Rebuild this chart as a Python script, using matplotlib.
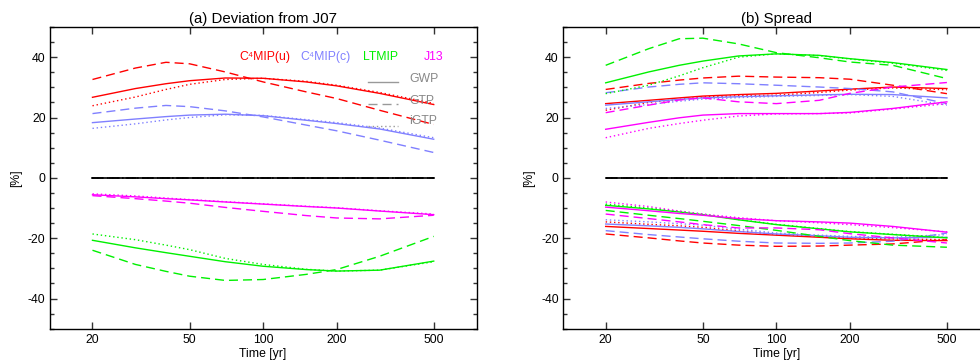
import matplotlib
matplotlib.use("Agg")
import matplotlib.pyplot as plt
from matplotlib.ticker import FixedLocator, NullLocator, MultipleLocator, FixedFormatter

plt.rcParams['font.family'] = ['Liberation Sans', 'DejaVu Sans']
plt.rcParams['axes.unicode_minus'] = False

# ---------------- data ----------------
years = [20, 30, 40, 50, 70, 100, 150, 200, 300, 500]
reference_j07 = [0, 0, 0, 0, 0, 0, 0, 0, 0, 0]

# (a) Deviation from J07 [%]
dev_c4u_gwp = [26.7, 29.6, 31.2, 32.2, 33.1, 33.0, 31.8, 30.5, 28.0, 24.3]
dev_c4u_gtp = [32.6, 36.4, 38.3, 37.8, 35.1, 31.8, 28.5, 26.3, 22.4, 17.7]
dev_c4u_igtp = [23.9, 26.8, 29.3, 31.0, 32.6, 33.0, 32.0, 30.7, 28.3, 24.7]
dev_c4c_gwp = [18.3, 19.5, 20.3, 20.8, 21.1, 20.6, 19.1, 18.0, 16.2, 12.8]
dev_c4c_gtp = [21.3, 23.1, 24.0, 23.6, 22.2, 20.2, 17.5, 15.6, 12.5, 8.4]
dev_c4c_igtp = [16.4, 17.9, 19.2, 20.0, 20.9, 20.7, 19.3, 18.3, 16.5, 13.3]
dev_lt_gwp = [-20.7, -23.2, -24.8, -26.0, -27.8, -29.3, -30.4, -30.9, -30.6, -27.6]
dev_lt_gtp = [-24.0, -28.7, -31.0, -32.6, -34.0, -33.7, -32.0, -30.4, -26.0, -19.4]
dev_lt_igtp = [-18.6, -20.5, -22.3, -23.8, -26.7, -28.7, -30.3, -30.9, -30.6, -27.8]
dev_j13_gwp = [-5.6, -6.3, -6.9, -7.3, -8.0, -8.7, -9.5, -10.0, -11.0, -12.2]
dev_j13_gtp = [-5.9, -6.9, -7.7, -8.4, -9.8, -11.1, -12.5, -13.3, -13.6, -12.4]
dev_j13_igtp = [-5.3, -6.0, -6.7, -7.2, -7.9, -8.6, -9.4, -9.9, -10.9, -12.0]

# (b) Spread [%] (upper / lower)
spr_c4u_gwp = [24.6, 25.7, 26.5, 27.1, 27.6, 28.0, 28.8, 29.4, 30.1, 29.6]
spr_c4u_gwp_lo = [-16.1, -16.8, -17.3, -17.7, -18.4, -19.0, -19.7, -20.2, -20.7, -20.8]
spr_c4u_gtp = [29.3, 31.3, 32.4, 33.1, 33.7, 33.4, 33.2, 32.7, 30.7, 27.9]
spr_c4u_gtp_lo = [-18.6, -19.9, -20.9, -21.6, -22.3, -22.7, -22.6, -22.3, -21.9, -20.5]
spr_c4u_igtp = [22.4, 25.0, 26.0, 26.8, 27.2, 27.4, 28.3, 29.1, 29.8, 29.2]
spr_c4u_igtp_lo = [-14.6, -15.4, -15.9, -16.4, -17.6, -18.8, -19.4, -19.9, -20.2, -20.5]
spr_c4c_gwp = [24.1, 25.2, 26.0, 26.5, 26.9, 27.2, 27.5, 27.7, 27.6, 26.5]
spr_c4c_gwp_lo = [-15.3, -15.9, -16.4, -16.9, -17.8, -18.6, -19.2, -19.7, -19.9, -19.7]
spr_c4c_gtp = [28.2, 30.1, 31.0, 31.5, 31.2, 30.7, 30.1, 29.6, 28.5, 24.6]
spr_c4c_gtp_lo = [-17.5, -18.8, -19.6, -20.2, -21.0, -21.6, -21.7, -21.6, -21.0, -18.3]
spr_c4c_igtp = [23.0, 24.3, 25.4, 26.1, 26.6, 27.0, 27.3, 27.6, 27.0, 24.1]
spr_c4c_igtp_lo = [-13.9, -14.6, -15.2, -15.7, -17.0, -18.3, -19.0, -19.4, -19.7, -18.8]
spr_lt_gwp = [31.5, 35.1, 37.3, 38.7, 40.4, 41.1, 40.6, 39.5, 38.2, 35.9]
spr_lt_gwp_lo = [-9.1, -10.3, -11.3, -12.2, -13.9, -15.5, -16.9, -17.9, -18.8, -19.9]
spr_lt_gtp = [37.3, 42.8, 46.1, 46.3, 44.4, 41.5, 39.8, 38.4, 37.3, 32.9]
spr_lt_gtp_lo = [-10.8, -12.4, -13.5, -14.4, -15.8, -17.4, -19.4, -20.8, -22.3, -23.0]
spr_lt_igtp = [27.9, 30.7, 33.8, 36.5, 40.0, 41.1, 40.5, 39.4, 38.0, 35.6]
spr_lt_igtp_lo = [-8.7, -10.0, -11.1, -12.0, -13.8, -15.4, -16.8, -17.8, -18.7, -19.8]
spr_j13_gwp = [16.1, 18.4, 19.9, 20.8, 21.3, 21.3, 21.3, 21.7, 23.0, 25.2]
spr_j13_gwp_lo = [-9.7, -10.9, -11.8, -12.4, -13.5, -14.2, -14.6, -15.0, -16.1, -18.0]
spr_j13_gtp = [21.6, 24.1, 25.8, 26.5, 25.2, 24.6, 25.7, 28.0, 30.1, 31.6]
spr_j13_gtp_lo = [-12.0, -13.5, -14.6, -15.5, -16.6, -16.6, -17.2, -18.5, -19.9, -21.6]
spr_j13_igtp = [13.3, 16.4, 18.0, 19.1, 20.5, 21.2, 21.3, 21.5, 22.8, 24.6]
spr_j13_igtp_lo = [-8.0, -9.5, -11.0, -12.0, -13.2, -14.2, -14.9, -15.5, -16.5, -17.9]

model_names = ['C\u2074MIP(u)', 'C\u2074MIP(c)', 'LTMIP', 'J13']
metric_names = ['GWP', 'GTP', 'iGTP']
x_ticks = [20, 50, 100, 200, 500]
x_ticklabels = ['20', '50', '100', '200', '500']

# ---------------- styles ----------------
colors = ['#ff0000', '#8080ff', '#00f000', '#ff00ff']
dash_styles = ['-', (0, (6.5, 3.6)), (0, (1.0, 2.0))]
lw = 1.0

fig = plt.figure(figsize=(9.8, 3.64), dpi=100)
W, H = 980.0, 364.0
ax_w, ax_h = 427.2, 301.7
ax_top = 27.0
axA = fig.add_axes([49.5 / W, (H - ax_top - ax_h) / H, ax_w / W, ax_h / H])
axB = fig.add_axes([562.7 / W, (H - ax_top - ax_h) / H, ax_w / W, ax_h / H])

dev_series = [
    [dev_c4u_gwp, dev_c4u_gtp, dev_c4u_igtp],
    [dev_c4c_gwp, dev_c4c_gtp, dev_c4c_igtp],
    [dev_lt_gwp, dev_lt_gtp, dev_lt_igtp],
    [dev_j13_gwp, dev_j13_gtp, dev_j13_igtp],
]
spr_series = [
    [(spr_c4u_gwp, spr_c4u_gwp_lo), (spr_c4u_gtp, spr_c4u_gtp_lo), (spr_c4u_igtp, spr_c4u_igtp_lo)],
    [(spr_c4c_gwp, spr_c4c_gwp_lo), (spr_c4c_gtp, spr_c4c_gtp_lo), (spr_c4c_igtp, spr_c4c_igtp_lo)],
    [(spr_lt_gwp, spr_lt_gwp_lo), (spr_lt_gtp, spr_lt_gtp_lo), (spr_lt_igtp, spr_lt_igtp_lo)],
    [(spr_j13_gwp, spr_j13_gwp_lo), (spr_j13_gtp, spr_j13_gtp_lo), (spr_j13_igtp, spr_j13_igtp_lo)],
]

for ax in (axA, axB):
    for ls in dash_styles:
        ax.plot(years, reference_j07, color='black', lw=1.2, linestyle=ls)

for mi, model in enumerate(dev_series):
    for si, ser in enumerate(model):
        axA.plot(years, ser, color=colors[mi], lw=lw, linestyle=dash_styles[si])

for mi, model in enumerate(spr_series):
    for si, (up, lo) in enumerate(model):
        axB.plot(years, up, color=colors[mi], lw=lw, linestyle=dash_styles[si])
        axB.plot(years, lo, color=colors[mi], lw=lw, linestyle=dash_styles[si])

for ax, title in ((axA, '(a) Deviation from J07'), (axB, '(b) Spread')):
    ax.set_xscale('log')
    ax.set_xlim(20 / 1.5, 500 * 1.5)
    ax.set_ylim(-50, 50)
    ax.xaxis.set_major_locator(FixedLocator(x_ticks))
    ax.xaxis.set_major_formatter(FixedFormatter(x_ticklabels))
    ax.xaxis.set_minor_locator(NullLocator())
    ax.yaxis.set_major_locator(MultipleLocator(20))
    ax.yaxis.set_minor_locator(MultipleLocator(5))
    ax.tick_params(axis='both', which='both', direction='in', top=True, right=True,
                   color='#333333', width=1.0, labelsize=8.8)
    ax.tick_params(axis='both', which='major', length=5.2)
    ax.tick_params(axis='both', which='minor', length=2.6)
    ax.tick_params(axis='x', which='major', pad=3.5)
    ax.tick_params(axis='y', which='major', pad=2.8)
    for sp in ax.spines.values():
        sp.set_linewidth(1.0)
        sp.set_color('black')
    ax.set_title(title, fontsize=10.8, pad=2.6)
    ax.text(0.5, -0.083, 'Time [yr]', transform=ax.transAxes, ha='center', va='center', fontsize=8.8)
    ax.text(-0.0785, 0.5, '[%]', transform=ax.transAxes, ha='center', va='center',
            rotation=90, fontsize=8.8)

# legend-like annotations in panel (a)
label_x = [0.5045, 0.647, 0.775, 0.899]
for name, c, xpos in zip(model_names, colors, label_x):
    axA.text(xpos, 0.900, name, transform=axA.transAxes, ha='center', va='center',
             color=c, fontsize=8.8)

metric_text_y = [0.8277, 0.7557, 0.6884]
metric_line_y = [0.8167, 0.7448, 0.672]
for name, ls, ty, ly in zip(metric_names, dash_styles, metric_text_y, metric_line_y):
    axA.plot([0.7463, 0.8165], [ly, ly], transform=axA.transAxes, color='#999999',
             lw=lw, linestyle=ls)
    axA.text(0.8427, ty, name, transform=axA.transAxes, ha='left', va='center',
             color='#888888', fontsize=8.8)

fig.savefig('out.png', dpi=100)
